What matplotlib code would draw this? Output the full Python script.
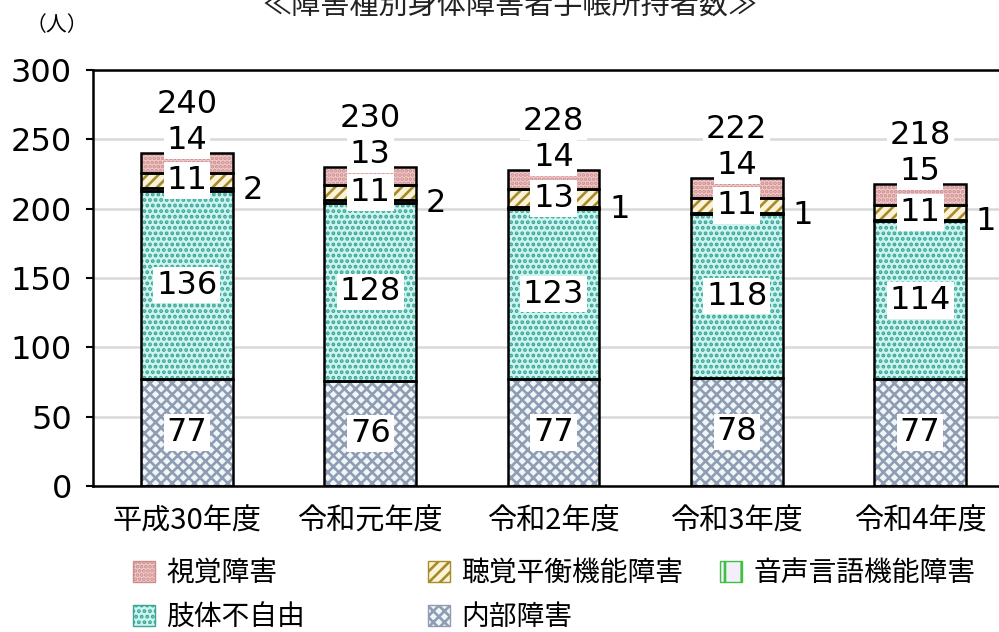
import matplotlib
matplotlib.use('Agg')
import matplotlib.pyplot as plt
import numpy as np

plt.rcParams['font.family'] = ['Noto Sans CJK JP', 'DejaVu Sans']
plt.rcParams['hatch.linewidth'] = 1.9
NUMFONT = ['DejaVu Sans', 'Noto Sans CJK JP']

years = ['平成30年度', '令和元年度', '令和2年度', '令和3年度', '令和4年度']
naibu = [77, 76, 77, 78, 77]          # 内部障害
shitai = [136, 128, 123, 118, 114]    # 肢体不自由
onsei = [2, 2, 1, 1, 1]               # 音声言語機能障害
choukaku = [11, 11, 13, 11, 11]       # 聴覚平衡機能障害
shikaku = [14, 13, 14, 14, 15]        # 視覚障害

fig = plt.figure(figsize=(9.99, 6.32), dpi=100)
ax = fig.add_axes([0.093, 0.231, 0.907, 0.658])

x = np.arange(len(years))
w = 0.5

# (data, face, hatch colour, hatch, legend label)
layers = [
    (naibu, '#f0f5fa', '#8e9db2', 'xxx', '内部障害'),
    (shitai, '#cdf4ef', '#3aa597', '...', '肢体不自由'),
    (onsei, '#f4eefa', '#40c040', '|', '音声言語機能障害'),
    (choukaku, '#fbf3d8', '#a88a2a', '///', '聴覚平衡機能障害'),
    (shikaku, '#f2cccc', '#cc8c8c', '....', '視覚障害'),
]

bottom = np.zeros(len(years))
handles = {}
for vals, fc, hc, hatch, lab in layers:
    vals = np.array(vals)
    ax.bar(x, vals, w, bottom=bottom, color=fc, edgecolor=hc, hatch=hatch,
           linewidth=0, zorder=2)
    ax.bar(x, vals, w, bottom=bottom, fill=False, edgecolor='black',
           linewidth=1.8, zorder=3)
    handles[lab] = plt.Rectangle((0, 0), 1, 1, facecolor=fc, edgecolor=hc, hatch=hatch)
    bottom = bottom + vals

box = dict(facecolor='white', edgecolor='none', pad=2)
total = np.array(naibu) + np.array(shitai) + np.array(onsei) + np.array(choukaku) + np.array(shikaku)
lab_kw = dict(ha='center', va='center', fontsize=23, family=NUMFONT, zorder=5)
for i in range(len(years)):
    b0 = 0
    ax.text(x[i], naibu[i] / 2, str(naibu[i]), bbox=box, **lab_kw)
    b0 += naibu[i]
    ax.text(x[i], b0 + shitai[i] / 2, str(shitai[i]), bbox=box, **lab_kw)
    b0 += shitai[i]
    ax.text(x[i] + w / 2 + 0.11, b0 + onsei[i] / 2 - 1, str(onsei[i]), **lab_kw)
    b0 += onsei[i]
    ax.text(x[i], b0 + choukaku[i] / 2, str(choukaku[i]), bbox=box, **lab_kw)
    ax.text(x[i], total[i] + 9, str(shikaku[i]), bbox=box, **lab_kw)
    ax.text(x[i], total[i] + 35, str(total[i]), bbox=box, **lab_kw)

ax.set_ylim(0, 300)
ax.set_xlim(-0.513, 4.43)
ax.set_yticks(range(0, 301, 50))
ax.set_xticks(x)
ax.set_xticklabels(years, fontsize=21)
for t in ax.get_yticklabels():
    t.set_family(NUMFONT)
ax.tick_params(axis='y', labelsize=23, length=5, width=1.5, pad=10)
ax.tick_params(axis='x', length=0, pad=15)
ax.grid(axis='y', color='#d9d9d9', linewidth=1.8, zorder=0)
ax.set_axisbelow(True)
for s in ['left', 'bottom', 'top']:
    ax.spines[s].set_linewidth(1.8)
ax.spines['right'].set_visible(False)

# legend: three columns placed like the original
cols = [(['視覚障害', '肢体不自由'], 133), (['聴覚平衡機能障害', '内部障害'], 428),
        (['音声言語機能障害'], 720)]
for names, px in cols:
    fig.legend([handles[k] for k in names], names, loc='upper left',
               bbox_to_anchor=(px / 999, 1 - 558 / 632), frameon=False,
               fontsize=20, handlelength=0.8, handleheight=0.8,
               handletextpad=0.4, labelspacing=0.5, borderpad=0,
               borderaxespad=0)

fig.text(0.057, 0.96, '（人）', fontsize=15, ha='center', va='center')
fig.text(0.51, 0.99, '≪障害種別身体障害者手帳所持者数≫', fontsize=21, ha='center',
         va='center', color='#222222')

fig.savefig('out.png', dpi=100)
